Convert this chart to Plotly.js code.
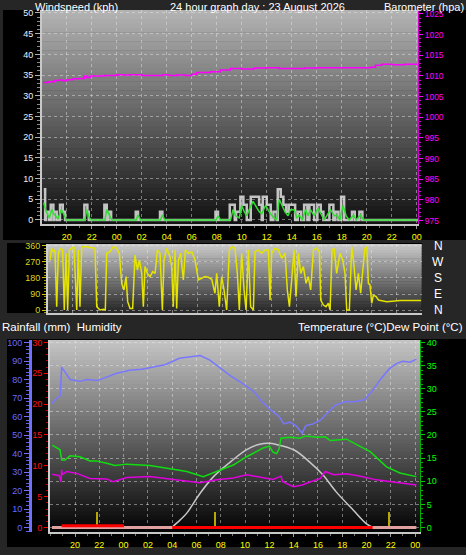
<!DOCTYPE html>
<html><head><meta charset="utf-8">
<script src="https://cdn.plot.ly/plotly-3.0.1.min.js"></script>
<style>html,body{margin:0;padding:0;background:#262626;}#chart{width:466px;height:555px;}</style>
</head><body><div id="chart"></div>
<script>
// ---------- DATA (hours after 18:00 of the previous day) ----------
const tickHours = [2,4,6,8,10,12,14,16,18,20,22,24,26,28,30];
const tickLabels = ['20','22','00','02','04','06','08','10','12','14','16','18','20','22','00'];

const gustHours = [0.16,0.27,0.35,0.59,0.72,0.93,0.98,1.2,1.46,1.68,1.86,3.41,3.65,3.76,5.01,5.2,5.33,5.55,7.52,7.7,9.46,9.65,13.9,14.1,15.04,15.44,15.55,15.89,16.13,16.4,16.72,17.39,17.6,17.68,18.0,18.32,18.53,18.8,18.88,19.12,19.33,19.55,19.76,20.27,20.48,20.75,20.99,21.25,21.41,21.79,22.05,22.32,22.53,23.01,23.33,23.49,23.73,23.95,24.19,24.82,25.04,25.41,25.65,30.1];
const gustVals  = [7.4,0,2,0,3.7,0,2,0,3.7,2,0,3.7,2,0,3.7,0,2,0,2,0,2,0,2,0,3.7,0,2,5.6,3.7,0,5.6,3.7,0,5.6,3.7,0,2,0,7.4,5.6,3.7,2,3.7,0,2,0,3.7,0,3.7,0,3.7,2,0,3.7,0,2,0,5.6,0,2,0,2,0,0];

const avgHours = [0.16,0.3,0.45,0.6,0.8,0.95,1.1,1.3,1.55,1.75,1.95,3.45,3.6,3.8,4.0,5.05,5.2,5.4,5.6,7.55,7.7,7.9,9.5,9.65,9.85,13.95,14.1,14.3,15.1,15.3,15.5,15.8,16.0,16.2,16.4,16.6,16.9,17.2,17.4,17.6,17.9,18.1,18.3,18.6,18.8,19.0,19.2,19.45,19.7,19.9,20.2,20.4,20.6,20.85,21.1,21.3,21.5,21.8,22.1,22.4,22.6,23.1,23.4,23.6,23.85,24.1,24.35,24.6,24.95,25.15,25.5,25.75,30.1];
const avgVals  = [4.2,2.5,1.5,0.5,2.5,1.5,1,0.3,2.5,1.5,0,0,2.5,0.5,0,0,2.5,1.2,0,0,1.2,0,0,1.2,0,0,1,0,0,2.5,1,0.5,3.5,2,1,2.5,4.5,3,2,1.5,3.5,2.5,1.5,0.5,0,5,3.5,2,1,2.5,2.5,0.5,1.2,0,2.5,1,2.5,1,2.8,1,0,2.5,1,1.2,0,3.5,1,0,1.2,0,1.2,0,0];

const baroHours = [0.1,0.5,1.0,1.4,1.7,2.0,2.5,3.0,3.4,3.6,3.9,5.0,6.0,6.5,7.0,8.0,9.0,9.7,10.2,10.8,11.5,12.0,12.4,13.5,14.3,15.1,16.0,17.0,18.0,19.0,20.0,21.0,22.0,23.0,24.0,25.0,26.3,26.7,27.2,28.0,29.0,30.0];
const baroVals  = [1008.4,1008.6,1008.9,1009.0,1008.8,1009.1,1009.3,1009.4,1010.0,1009.6,1010.0,1010.1,1010.3,1010.2,1010.3,1010.1,1010.1,1010.3,1010.1,1010.2,1010.1,1010.4,1010.8,1011.0,1011.4,1011.8,1011.7,1011.9,1012.0,1011.8,1011.8,1011.9,1012.0,1012.0,1012.0,1012.0,1012.1,1012.6,1012.8,1012.7,1012.8,1012.6];

const dirHours = [0.16,0.29,0.43,0.56,0.70,0.83,0.97,1.18,1.31,1.45,1.58,1.72,1.90,2.09,2.31,2.44,2.57,2.71,3.11,3.51,3.78,3.92,4.05,4.18,4.45,4.61,4.72,4.99,5.26,5.52,5.74,5.93,6.11,6.28,6.41,6.60,6.81,7.00,7.19,7.35,7.54,7.67,7.80,7.99,8.21,8.42,8.61,8.80,9.01,9.20,9.33,9.55,9.81,9.95,10.08,10.22,10.35,10.49,10.67,10.89,11.05,11.29,11.56,11.83,12.09,12.36,12.63,12.90,13.17,13.43,13.57,13.78,13.97,14.16,14.37,14.59,14.78,15.04,15.23,15.39,15.58,15.77,15.93,16.12,16.30,16.52,16.65,16.92,17.19,17.46,17.73,17.86,17.99,18.26,18.53,18.80,19.07,19.25,19.42,19.60,19.79,19.95,20.14,20.33,20.54,20.76,20.94,21.13,21.35,21.61,21.83,21.94,22.15,22.36,22.55,22.69,22.85,23.01,23.22,23.49,23.71,23.89,24.03,24.24,24.43,24.62,24.78,24.97,25.15,25.32,25.50,25.64,25.77,25.90,26.04,26.17,26.39,26.58,26.84,27.25,28.32,30.01];
const dirDeg = [281,347,328,338,19,319,347,338,0,319,0,338,347,356,0,338,19,356,356,353,347,19,9,0,4,0,319,328,356,347,319,150,113,188,47,9,9,309,225,281,206,19,244,206,188,216,206,338,319,0,281,347,300,244,19,338,9,281,319,169,338,319,328,281,169,178,188,184,173,94,206,19,188,113,0,338,356,347,206,0,319,113,0,338,19,0,328,338,319,338,338,56,319,347,338,291,319,113,19,169,338,75,319,206,244,150,188,113,338,347,328,56,28,19,38,0,338,347,206,319,281,206,0,0,356,244,113,206,94,225,347,356,150,141,38,84,75,56,53,47,53,53];

const humHours = [0.08,0.5,0.77,0.9,1.18,1.59,2.41,2.96,3.78,4.33,5.43,6.5,7.5,8.5,9.4,10.6,11.5,12.3,13.1,13.8,14.8,16.0,16.8,17.4,18.2,18.8,19.2,19.7,20.2,20.7,21.0,21.6,22.2,22.8,23.4,24.2,25.0,25.8,26.5,27.1,27.9,28.5,29.0,29.6,30.1];
const humVals  = [67,70,71,86.6,84,80,79,80,79.5,80.6,83.4,85,85.5,87,88,91.5,92.5,93,90.5,87,82,77,73,68,63,60,56,57,55,51,55,56,58,62,66,68,68,69,74,79.7,86,88.7,89.9,89.3,91];

const tempHours = [0.13,0.77,0.9,1.18,1.59,2.41,3.23,3.78,4.6,5.29,6.26,8.17,10.09,11.2,12.56,13.66,15.03,16.13,16.95,17.5,18.0,18.3,18.6,18.8,18.95,19.7,20.5,21.0,21.9,22.6,23.0,24.36,25.5,26.3,27.65,28.75,30.1];
const tempVals  = [17.8,16.8,14.6,14.6,15.5,15.3,14.4,14.4,13.9,13.4,13.7,13.4,12.6,12.1,11.0,12.1,13.5,15.3,16.4,17.2,17.6,16.3,16.0,17.0,19.3,19.5,19.3,19.8,19.5,19.6,18.8,19.1,17.5,16.4,13.1,11.8,11.0];

const dewHours = [0.13,0.7,0.85,0.9,0.95,1.3,2.14,3.23,4.6,5.15,6.26,8.17,10.09,12.3,13.66,15.03,16.13,17.2,18.3,18.96,19.1,19.97,20.7,21.4,22.2,22.6,23.3,24.36,25.5,26.8,28.2,30.1];
const dewVals  = [11.5,11.2,9.9,12.5,11.4,12.1,11.7,10.6,10.5,9.9,10.8,11.0,10.4,9.7,10.3,10.7,11.4,10.9,10.4,11.1,9.9,8.8,9.2,9.9,10.6,12.1,11.4,11.6,11.1,10.3,9.9,9.2];

const solarHours = [9.96,10.64,11.2,12.3,13.4,14.8,16.1,17.2,18.05,18.5,20.0,21.3,22.4,23.5,24.9,26.0,26.55];
const solarVals  = [0,1.6,3.1,7.4,11.0,14.2,16.8,18.0,18.2,18.0,16.8,14.2,11.4,7.7,3.8,0.8,0];

const rainBaseHours = [0.1,30.1];
const rainBaseVals = [0,0];
const rainHours = [0.9,6.03,6.04,9.99,10.0,26.5];
const rainVals  = [0.3,0.3,null,null,0,0];

const markHours = [3.78,13.5,27.85];
const markVals  = [2.5,2.5,2.5];

// ---------- LAYOUT HELPERS ----------
const W = 466, H = 555;
const px = v => v / W;
const py = v => 1 - v / H;
const FONT = 'Liberation Sans, Arial, sans-serif';

function rect(x0, x1, y0, y1, color) {
  return {type:'rect', xref:'paper', yref:'paper', x0:px(x0), x1:px(x1), y0:py(y1), y1:py(y0),
          fillcolor:color, line:{width:0}, layer:'below'};
}
function gradient(x0, x1, y0, y1, c0, c1, n) {
  const out = [];
  for (let i = 0; i < n; i++) {
    const t = i / (n - 1);
    const c = c0.map((v, k) => Math.round(v + (c1[k] - v) * t));
    const ya = y0 + (y1 - y0) * i / n, yb = y0 + (y1 - y0) * (i + 1) / n + 0.5;
    out.push(rect(x0, x1, ya, yb, `rgb(${c[0]},${c[1]},${c[2]})`));
  }
  return out;
}

const shapes = [
  rect(3, 466, 10, 240, '#000000'),
  rect(7, 422, 243, 313, '#000000'),
  rect(7, 466, 339, 547, '#000000'),
  ...gradient(42, 418, 10, 224, [178,178,178], [18,18,18], 48),
  ...gradient(48, 421.7, 244, 312.7, [200,200,200], [40,40,40], 24),
  ...gradient(50, 420, 340, 531.7, [195,195,195], [5,5,5], 48)
];

const grid = {showgrid:true, gridcolor:'rgba(235,235,235,0.45)', griddash:'dot', gridwidth:1};
const xbase = Object.assign({
  tickmode:'array', tickvals:tickHours, ticktext:tickLabels, zeroline:false,
  ticks:'outside', ticklen:3, tickcolor:'#9a9a9a',
  tickfont:{family:FONT, size:9, color:'#ffff00'},
  showline:true, linecolor:'#c8c8c8', linewidth:2,
  minor:{dtick:1, tick0:0, ticks:'outside', ticklen:2, tickcolor:'#777'}
}, grid);

const annFont = {family:FONT, size:11, color:'#ffffff'};
const annotations = [
  {text:'Windspeed (kph)', x:px(34), y:py(-0.5), xanchor:'left', yanchor:'top'},
  {text:'24 hour graph day : 23 August 2026', x:px(257), y:py(-0.5), xanchor:'center', yanchor:'top'},
  {text:'Barometer (hpa)', x:px(465), y:py(-0.5), xanchor:'right', yanchor:'top'},
  {text:'Rainfall (mm)  Humidity', x:px(1), y:py(327), xanchor:'left', yanchor:'middle', font:{family:FONT, size:11.5, color:'#ffffff'}},
  {text:'Temperature (°C)Dew Point (°C)', x:px(464), y:py(327), xanchor:'right', yanchor:'middle', font:{family:FONT, size:11.5, color:'#ffffff'}}
].map(a => Object.assign({xref:'paper', yref:'paper', showarrow:false, borderpad:0, font:annFont}, a));
const compass = ['N','W','S','E','N'];
const compassDeg = [360,270,180,90,0];
compass.forEach((c, i) => annotations.push({text:c, xref:'paper', yref:'y3', x:px(438), y:compassDeg[i],
  xanchor:'center', yanchor:'middle', showarrow:false, font:{family:FONT, size:12, color:'#ffffff'}}));

const layout = {
  width:W, height:H, margin:{l:0, r:0, t:0, b:0},
  paper_bgcolor:'#262626', plot_bgcolor:'rgba(0,0,0,0)',
  showlegend:false, font:{family:FONT}, shapes, annotations, bargap:0,
  xaxis: Object.assign({}, xbase, {domain:[px(42), px(418)], range:[0.02, 30.1], anchor:'y'}),
  yaxis: Object.assign({
    domain:[py(224), py(10)], range:[-0.97, 50.72], tickmode:'linear', tick0:0, dtick:5,
    ticks:'outside', ticklen:5, tickcolor:'#b0b0b0', zeroline:false,
    tickfont:{family:FONT, size:9, color:'#e8f2ff'},
    showline:true, linecolor:'#c8c8c8', linewidth:2,
    minor:{dtick:1, ticks:'outside', ticklen:3, tickcolor:'#8a8a8a'}
  }, grid),
  yaxis2: {overlaying:'y', side:'right', anchor:'x', range:[974.16, 1025.95], tickmode:'linear', tick0:975, dtick:5,
    ticks:'outside', ticklen:4, tickcolor:'#ff00ff', showgrid:false, zeroline:false,
    tickfont:{family:FONT, size:8.5, color:'#ff00ff'},
    showline:true, linecolor:'#d000d0', linewidth:1,
    minor:{dtick:1, ticks:'outside', ticklen:2, tickcolor:'#c000c0'}},
  xaxis2: Object.assign({}, xbase, {domain:[px(48), px(421.7)], range:[0, 30.06], anchor:'y3',
    showticklabels:false, ticks:'', minor:{ticks:''}}),
  yaxis3: Object.assign({
    domain:[py(312.7), py(244)], range:[-15.2, 371.2], tickmode:'array', tickvals:[0,90,180,270,360],
    ticks:'outside', ticklen:4, tickcolor:'#c8c800', zeroline:false,
    tickfont:{family:FONT, size:9, color:'#d8d820'},
    showline:true, linecolor:'#d0d0d0', linewidth:2, anchor:'x2',
    minor:{dtick:15, ticks:'outside', ticklen:2, tickcolor:'#a0a000'}
  }, grid),
  xaxis3: Object.assign({}, xbase, {domain:[px(50), px(420)], range:[-0.06, 30.4], anchor:'y6'}),
  yaxis6: Object.assign({
    domain:[py(531.7), py(340)], range:[-0.91, 40.54], side:'right', anchor:'x3',
    tickmode:'linear', tick0:0, dtick:5, ticks:'outside', ticklen:4, tickcolor:'#00d000', zeroline:false,
    tickfont:{family:FONT, size:9, color:'#00ff00'},
    showline:true, linecolor:'#00b000', linewidth:1,
    minor:{dtick:1, ticks:'outside', ticklen:2, tickcolor:'#00b000', showgrid:false}
  }, grid),
  yaxis4: {overlaying:'y6', side:'left', anchor:'free', position:px(30), range:[-2.27, 101.35],
    tickmode:'linear', tick0:0, dtick:10, ticks:'outside', ticklen:5, tickcolor:'#7070ff',
    showgrid:false, zeroline:false, tickfont:{family:FONT, size:9, color:'#6a6aff'},
    showline:true, linecolor:'#7070ff', linewidth:3,
    minor:{dtick:2, ticks:'outside', ticklen:3, tickcolor:'#6060e0'}},
  yaxis5: {overlaying:'y6', side:'left', anchor:'x3', range:[-0.68, 30.4],
    tickmode:'linear', tick0:0, dtick:5, ticks:'outside', ticklen:4, tickcolor:'#ff0000',
    showgrid:false, zeroline:false, tickfont:{family:FONT, size:9, color:'#ff1010'},
    showline:true, linecolor:'#d0d0d0', linewidth:2,
    minor:{dtick:1, ticks:'outside', ticklen:2, tickcolor:'#c00000'}}
};

const traces = [
  {x:gustHours, y:gustVals, xaxis:'x', yaxis:'y', mode:'lines', line:{shape:'hv', color:'rgba(225,225,225,0.85)', width:2.5}},
  {x:avgHours, y:avgVals, xaxis:'x', yaxis:'y', mode:'lines', line:{color:'#33dd33', width:1.5}},
  {x:baroHours, y:baroVals, xaxis:'x', yaxis:'y2', mode:'lines', line:{shape:'hv', color:'#ff00ff', width:1.5}},
  {x:dirHours, y:dirDeg, xaxis:'x2', yaxis:'y3', mode:'lines', line:{color:'#e4e400', width:1.5}},
  {x:markHours, y:markVals, xaxis:'x3', yaxis:'y5', type:'bar', width:0.15, marker:{color:'#b8a800', line:{width:0}}},
  {x:rainBaseHours, y:rainBaseVals, xaxis:'x3', yaxis:'y5', mode:'lines', line:{color:'#e0a0a0', width:3}},
  {x:rainHours, y:rainVals, xaxis:'x3', yaxis:'y5', mode:'lines', connectgaps:false, line:{color:'#ff0000', width:3}},
  {x:solarHours, y:solarVals, xaxis:'x3', yaxis:'y6', mode:'lines', line:{shape:'spline', color:'#c8c8c8', width:1.5}},
  {x:dewHours, y:dewVals, xaxis:'x3', yaxis:'y6', mode:'lines', line:{color:'#e000e0', width:1.5}},
  {x:tempHours, y:tempVals, xaxis:'x3', yaxis:'y6', mode:'lines', line:{color:'#10dd10', width:1.5}},
  {x:humHours, y:humVals, xaxis:'x3', yaxis:'y4', mode:'lines', line:{color:'#7878ff', width:1.5}}
];

Plotly.newPlot('chart', traces, layout, {staticPlot:true, displayModeBar:false});
</script></body></html>
